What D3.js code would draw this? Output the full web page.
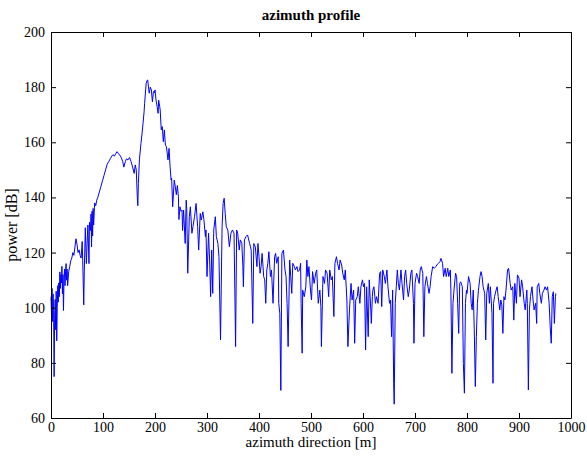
<!DOCTYPE html>
<html>
<head>
  <meta charset="utf-8">
  <script src="https://cdn.jsdelivr.net/npm/d3@7"></script>
  <style>
    body { margin: 0; background: white; }
    svg text { font-family: "Liberation Serif", "Times New Roman", serif; fill: black; }
  </style>
</head>
<body>
  <script>
    // azimuth direction [m] of each sample
    const azimuthM = [
      0, 1, 2, 3, 4, 5, 6, 7, 8, 9,
      10, 11, 12, 13, 14, 15, 16, 17, 18, 19,
      20, 21, 22, 23, 24, 25, 26, 27, 28, 29,
      30, 31, 32, 34, 36, 38, 40, 42, 44, 46,
      48, 50, 52, 54, 56, 58, 60, 61, 63, 64,
      66, 68, 70, 71, 73, 74, 76, 77, 78, 79,
      80, 81, 82, 84, 86, 88, 90, 93, 96, 99,
      102, 105, 108, 111, 114, 117, 119, 122, 125, 127,
      130, 132, 135, 138, 140, 143, 145, 148, 151, 154,
      157, 160, 162, 164, 166, 167, 168, 170, 173, 175,
      177, 179, 180, 182, 183, 185, 186, 188, 189, 191,
      193, 195, 197, 199, 200, 202, 204, 206, 207, 209,
      210, 212, 214, 216, 218, 220, 222, 225, 227, 229,
      231, 232, 234, 237, 239, 241, 243, 245, 246, 248,
      250, 252, 253, 255, 258, 260, 261, 263, 266, 268,
      271, 273, 276, 279, 282, 284, 287, 289, 292, 294,
      297, 298, 300, 303, 305, 307, 309, 311, 313, 316,
      318, 321, 323, 326, 329, 331, 333, 335, 337, 340,
      343, 346, 349, 352, 355, 357, 359, 362, 364, 367,
      369, 370, 372, 375, 378, 382, 385, 388, 390, 393,
      396, 398, 400, 402, 404, 406, 409, 411, 413, 415,
      417, 419, 422, 424, 427, 430, 432, 434, 437, 438,
      440, 442, 444, 447, 450, 452, 454, 456, 459, 461,
      463, 465, 468, 470, 473, 475, 478, 480, 481, 483,
      484, 487, 490, 492, 494, 496, 499, 501, 503, 506,
      509, 511, 514, 517, 519, 520, 523, 526, 528, 531,
      534, 536, 539, 541, 544, 546, 549, 551, 554, 556,
      559, 561, 564, 566, 569, 571, 574, 577, 579, 582,
      584, 586, 589, 591, 594, 596, 599, 601, 603, 605,
      607, 610, 612, 615, 616, 618, 619, 621, 624, 626,
      629, 632, 634, 636, 638, 641, 643, 646, 648, 651,
      653, 655, 657, 659, 660, 662, 664, 666, 668, 670,
      673, 675, 678, 680, 682, 684, 687, 689, 692, 694,
      697, 698, 700, 703, 705, 708, 710, 712, 715, 717,
      719, 722, 724, 727, 729, 731, 734, 737, 740, 742,
      745, 748, 750, 753, 755, 758, 760, 763, 765, 768,
      769, 771, 773, 775, 778, 780, 782, 784, 786, 788,
      791, 793, 795, 797, 799, 800, 803, 806, 808, 810,
      812, 814, 816, 818, 820, 822, 825, 827, 829, 831,
      834, 836, 838, 841, 843, 845, 848, 850, 851, 853,
      856, 858, 860, 863, 865, 867, 869, 871, 873, 875,
      878, 880, 883, 885, 888, 890, 892, 895, 897, 900,
      902, 905, 907, 910, 912, 915, 916, 918, 920, 922,
      925, 927, 929, 932, 934, 935, 938, 940, 943, 945,
      948, 950, 953, 955, 958, 960, 962, 964, 966, 968,
      970, 971
    ]

    // power [dB]
    const powerDb = [
      104, 97, 107, 95, 105, 99, 75, 96, 103, 92,
      106, 88, 100, 108, 102, 109, 104, 113, 107, 112,
      109, 115, 105, 112, 99, 110, 114, 108, 113, 116,
      110, 114, 108, 113, 115, 117, 118, 120, 119, 122,
      125, 123, 120, 121, 119, 118, 124, 117, 101, 113,
      129, 116, 126, 130, 116, 131, 128, 134, 122, 135,
      126, 136, 130, 138, 137, 139, 140, 142, 144, 146,
      148, 150, 152, 153, 154, 155, 155.5, 155, 156, 156.6,
      155.8, 155.4, 154.5, 153, 151, 153, 154, 153.6, 154.5, 153,
      151, 148.7, 151.8, 150, 140, 137, 145, 153.6, 159.6, 163,
      166.9, 171, 174, 179, 181.4, 182.5, 182.6, 179, 177.8, 180,
      179, 174.7, 178.4, 178, 179, 175.3, 173, 170.5, 175.3, 173,
      171.7, 164.5, 165.7, 160.2, 164.5, 159, 158.4, 153.6, 157.8, 151.2,
      146.3, 147, 136.6, 146.3, 144, 141, 144.3, 140.3, 132, 136.6,
      135, 135.4, 128, 135.4, 123.3, 139, 136, 112.5, 133, 136.6,
      127, 129.4, 133, 137.8, 129.4, 120.9, 134.2, 131.8, 134.8, 132,
      125.8, 128.2, 111.3, 127, 117.3, 104, 120.9, 105.2, 128.2, 133,
      125.8, 123.3, 118.5, 88.3, 129.4, 137.8, 139.7, 134.2, 129.4, 128.2,
      122.1, 127, 128.2, 127, 85.9, 128.2, 127, 120.9, 124.6, 123.3,
      114.9, 107.6, 124.6, 125.8, 126.4, 123.3, 120.9, 94.3, 123.3, 122,
      114.9, 123.3, 118.5, 112.5, 114.9, 119.7, 111.3, 110.1, 101.6, 113.7,
      116.1, 120.3, 111.3, 113.7, 101.6, 118.5, 119.7, 116.1, 118.5, 101.6,
      98, 70, 119.7, 120.9, 113.7, 111.3, 101.6, 85.9, 117.3, 111.3,
      105.2, 116.1, 114.9, 113.7, 114.9, 113.1, 113.7, 116.1, 101.6, 83.5,
      106.4, 104, 107.6, 117.3, 111.3, 114.9, 106.4, 102.8, 113.1, 108.8,
      112.5, 113.7, 101.6, 106.4, 100.4, 85.9, 111.3, 108.8, 113.7, 112.5,
      104, 113.7, 110.1, 111.3, 96.8, 116.1, 118.5, 116.1, 113.7, 117.3,
      115.5, 112.5, 110.1, 113.7, 102.8, 85.9, 99.2, 108.8, 102.8, 106.4,
      87.1, 102.8, 104, 107.6, 101.6, 107.6, 110.1, 107.6, 108.8, 84.7,
      107.6, 89.5, 110.1, 99.2, 94.3, 104, 106.4, 107.6, 101.6, 104,
      101.6, 112.5, 113.1, 100.4, 113.7, 111.3, 108.8, 113.7, 107.6, 101.6,
      102.8, 89.5, 106.4, 72.6, 65, 101.6, 107.6, 113.7, 108.8, 106.4,
      113.7, 108.8, 102.8, 111.3, 113.7, 108.8, 104, 106.4, 112.5, 113.7,
      101.6, 87.1, 108.8, 112.5, 111.3, 108.8, 113.7, 114.9, 112.5, 89.5,
      107.6, 111.3, 108.8, 105.2, 107.6, 111.3, 114.9, 114.3, 114.9, 115.5,
      116.1, 116.7, 117.9, 116.1, 111.3, 114.3, 111.3, 114.3, 111.3, 113.7,
      106.4, 76.2, 101.6, 106.4, 112.5, 111.3, 101.6, 90.7, 108.8, 109.4,
      107.6, 79.8, 69, 101.6, 106.4, 105.2, 111.3, 108.8, 101.6, 99.2,
      106.4, 91.9, 71.4, 89.5, 101.6, 106.4, 111.3, 113.1, 111.3, 107.6,
      105.2, 88.3, 105.2, 108.8, 101.6, 107.6, 98, 72.6, 101.6, 104,
      106.4, 107.6, 104, 99.2, 102.8, 101, 90.7, 104, 102.8, 106.4,
      113.7, 114.3, 108.8, 106.4, 107.6, 95.5, 108.8, 101.6, 111.9, 110.7,
      104, 110.1, 107.6, 101.6, 99.2, 106.4, 101.6, 70.2, 99.2, 104,
      107.6, 102.8, 99.2, 101.6, 94.3, 107.6, 108.8, 105.2, 101.6, 105.2,
      106.4, 107.6, 106.4, 107.6, 101.6, 93.1, 87.1, 104, 105.8, 94.3,
      104, 105.2
    ]

    const xTicks = [0, 100, 200, 300, 400, 500, 600, 700, 800, 900, 1000]
    const yTicks = [60, 80, 100, 120, 140, 160, 180, 200]
    const titleText = 'azimuth profile'
    const xLabel = 'azimuth direction [m]'
    const yLabel = 'power [dB]'

    const width = 587, height = 459
    const plotLeft = 51, plotRight = 571, plotTop = 32, plotBottom = 418
    const font = '"Liberation Serif", "Times New Roman", serif'

    const svg = d3.select('body').append('svg')
      .attr('width', width)
      .attr('height', height)

    const x = d3.scaleLinear().domain([0, 1000]).range([plotLeft, plotRight])
    const y = d3.scaleLinear().domain([60, 200]).range([plotBottom, plotTop])

    const points = azimuthM.map((m, i) => [m, powerDb[i]])

    const lineGen = d3.line()
      .defined(d => d[1] != null)
      .x(d => x(d[0]))
      .y(d => y(d[1]))

    svg.append('path')
      .attr('d', lineGen(points))
      .attr('fill', 'none')
      .attr('stroke', '#0000ff')
      .attr('stroke-width', 1)

    function styleAxis(g) {
      g.attr('font-family', font).attr('font-size', 14)
      g.selectAll('path, line').attr('stroke', 'black')
      g.selectAll('text').attr('fill', 'black')
    }

    const plain = d => String(d)

    // matlab style box with inward ticks on all sides
    svg.append('g')
      .attr('transform', `translate(0,${plotBottom})`)
      .call(d3.axisBottom(x).tickValues(xTicks).tickFormat(plain)
        .tickSizeInner(-5).tickSizeOuter(0).tickPadding(4))
      .call(styleAxis)

    svg.append('g')
      .attr('transform', `translate(0,${plotTop})`)
      .call(d3.axisTop(x).tickValues(xTicks).tickSizeInner(-5).tickSizeOuter(0).tickFormat(''))
      .call(styleAxis)

    svg.append('g')
      .attr('transform', `translate(${plotLeft},0)`)
      .call(d3.axisLeft(y).tickValues(yTicks).tickFormat(plain)
        .tickSizeInner(-5).tickSizeOuter(0).tickPadding(6))
      .call(styleAxis)

    svg.append('g')
      .attr('transform', `translate(${plotRight},0)`)
      .call(d3.axisRight(y).tickValues(yTicks).tickSizeInner(-5).tickSizeOuter(0).tickFormat(''))
      .call(styleAxis)

    svg.append('text')
      .attr('x', (plotLeft + plotRight) / 2)
      .attr('y', 20)
      .attr('text-anchor', 'middle')
      .attr('font-size', 15)
      .attr('font-weight', 'bold')
      .text(titleText)

    svg.append('text')
      .attr('x', (plotLeft + plotRight) / 2)
      .attr('y', 447)
      .attr('text-anchor', 'middle')
      .attr('font-size', 15)
      .text(xLabel)

    svg.append('text')
      .attr('transform', `translate(17,${(plotTop + plotBottom) / 2}) rotate(-90)`)
      .attr('text-anchor', 'middle')
      .attr('font-size', 16)
      .text(yLabel)
  </script>
</body>
</html>
